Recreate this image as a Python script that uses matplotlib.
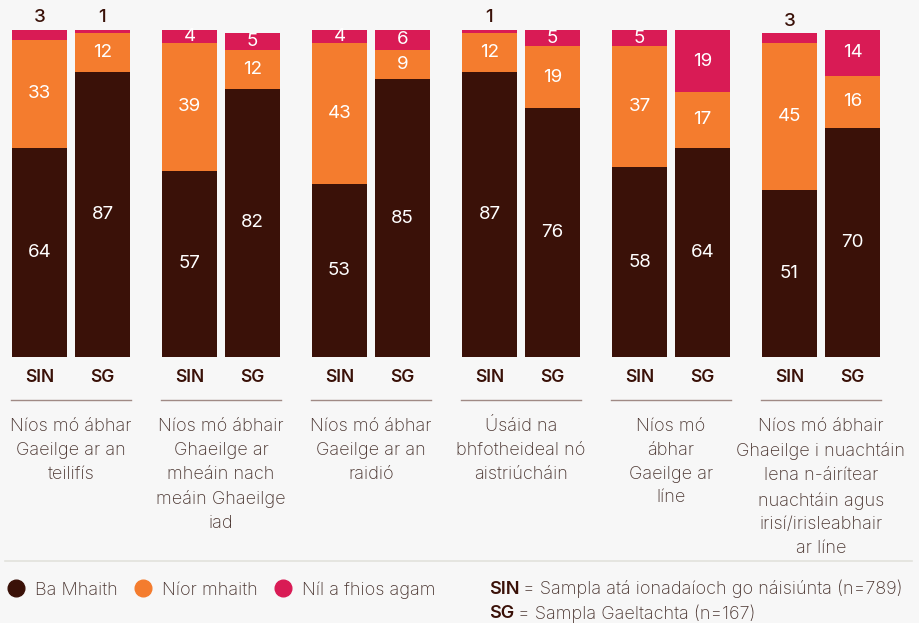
import numpy as np
import matplotlib.pyplot as plt
from matplotlib.lines import Line2D

# =============================================================================
# Data
# =============================================================================
categories = ['Níos mó ábhar\nGaeilge ar an\nteilifís',
              'Níos mó ábhair\nGhaeilge ar\nmheáin nach\nmeáin Ghaeilge\niad',
              'Níos mó ábhar\nGaeilge ar an\nraidió',
              'Úsáid na\nbhfotheideal nó\naistriúcháin',
              'Níos mó\nábhar\nGaeilge ar\nlíne',
              'Níos mó ábhair\nGhaeilge i nuachtáin\nlena n-áirítear\nnuachtáin agus\nirisí/irisleabhair\nar líne']
samples = ['SIN', 'SG']
series = ['Ba Mhaith', 'Níor mhaith', 'Níl a fhios agam']

sin_yes = [64, 57, 53, 87, 58, 51]
sin_no = [33, 39, 43, 12, 37, 45]
sin_dk = [3, 4, 4, 1, 5, 3]
sg_yes = [87, 82, 85, 76, 64, 70]
sg_no = [12, 12, 9, 19, 17, 16]
sg_dk = [1, 5, 6, 5, 19, 14]

colors = ['#3a1108', '#f47c2e', '#d91b55']
bg = '#f7f7f7'
dark = '#3a1108'
txt = '#4a3530'

plt.rcParams['font.family'] = ['Inter', 'DejaVu Sans']

fig = plt.figure(figsize=(9.2, 6.23), dpi=100)
fig.patch.set_facecolor(bg)
ax = fig.add_axes([0, 0, 1, 1])
ax.set_facecolor(bg)
ax.set_xlim(-0.4733, 5.66)
ax.set_ylim(-81.35, 109.17)
ax.axis('off')

x = np.arange(len(categories))
off = 0.21
w = 0.367

for data, pos in [((sin_yes, sin_no, sin_dk), x - off), ((sg_yes, sg_no, sg_dk), x + off)]:
    bottom = np.zeros(len(x))
    for vals, c in zip(data, colors):
        vals = np.array(vals)
        ax.bar(pos, vals, w, bottom=bottom, color=c, linewidth=0)
        for xi, v, b in zip(pos, vals, bottom):
            if v >= 4:
                ax.text(xi, b + v / 2, str(v), ha='center', va='center',
                        color='white', fontsize=13.5)
            else:
                ax.text(xi, b + v + 3.7, str(v), ha='center', va='center',
                        color=dark, fontsize=13.5, fontweight='medium')
        bottom = bottom + vals

# Sample labels, underline and category text
for i, cat in enumerate(categories):
    ax.text(i - off, -6.4, samples[0], ha='center', va='center', color=dark,
            fontsize=12.5, fontweight='semibold')
    ax.text(i + off, -6.4, samples[1], ha='center', va='center', color=dark,
            fontsize=12.5, fontweight='semibold')
    ax.plot([i - 0.4, i + 0.4], [-13.15, -13.15], color='#a08a85', lw=1)
    ax.text(i, -18.6, cat, ha='center', va='top', color=txt, fontsize=13,
            fontweight='light', linespacing=1.53)

ax.plot([-0.44, 5.607], [-62.4, -62.4], color='#e2e2dc', lw=1.2)

# Legend
handles = [Line2D([], [], marker='o', ls='', color=c, markersize=12) for c in colors]
fig.legend(handles, series, loc='center left', bbox_to_anchor=(5 / 920, 1 - 590 / 623),
           frameon=False, handletextpad=0.45, columnspacing=0.8,
           borderpad=0, borderaxespad=0,
           ncol=3, handlelength=1.2, labelcolor=txt, prop={'weight': 'light', 'size': 13})

fig.text(489 / 920, 1 - 589 / 623, 'SIN', color=dark, fontsize=13, va='center', fontweight='semibold')
fig.text(523 / 920, 1 - 589 / 623, '= Sampla atá ionadaíoch go náisiúnta (n=789)',
         color=txt, fontsize=13, va='center', fontweight='light')
fig.text(489 / 920, 1 - 614 / 623, 'SG', color=dark, fontsize=13, va='center', fontweight='semibold')
fig.text(518 / 920, 1 - 614 / 623, '= Sampla Gaeltachta (n=167)',
         color=txt, fontsize=13, va='center', fontweight='light')

plt.savefig('out.png', dpi=100, facecolor=bg)
